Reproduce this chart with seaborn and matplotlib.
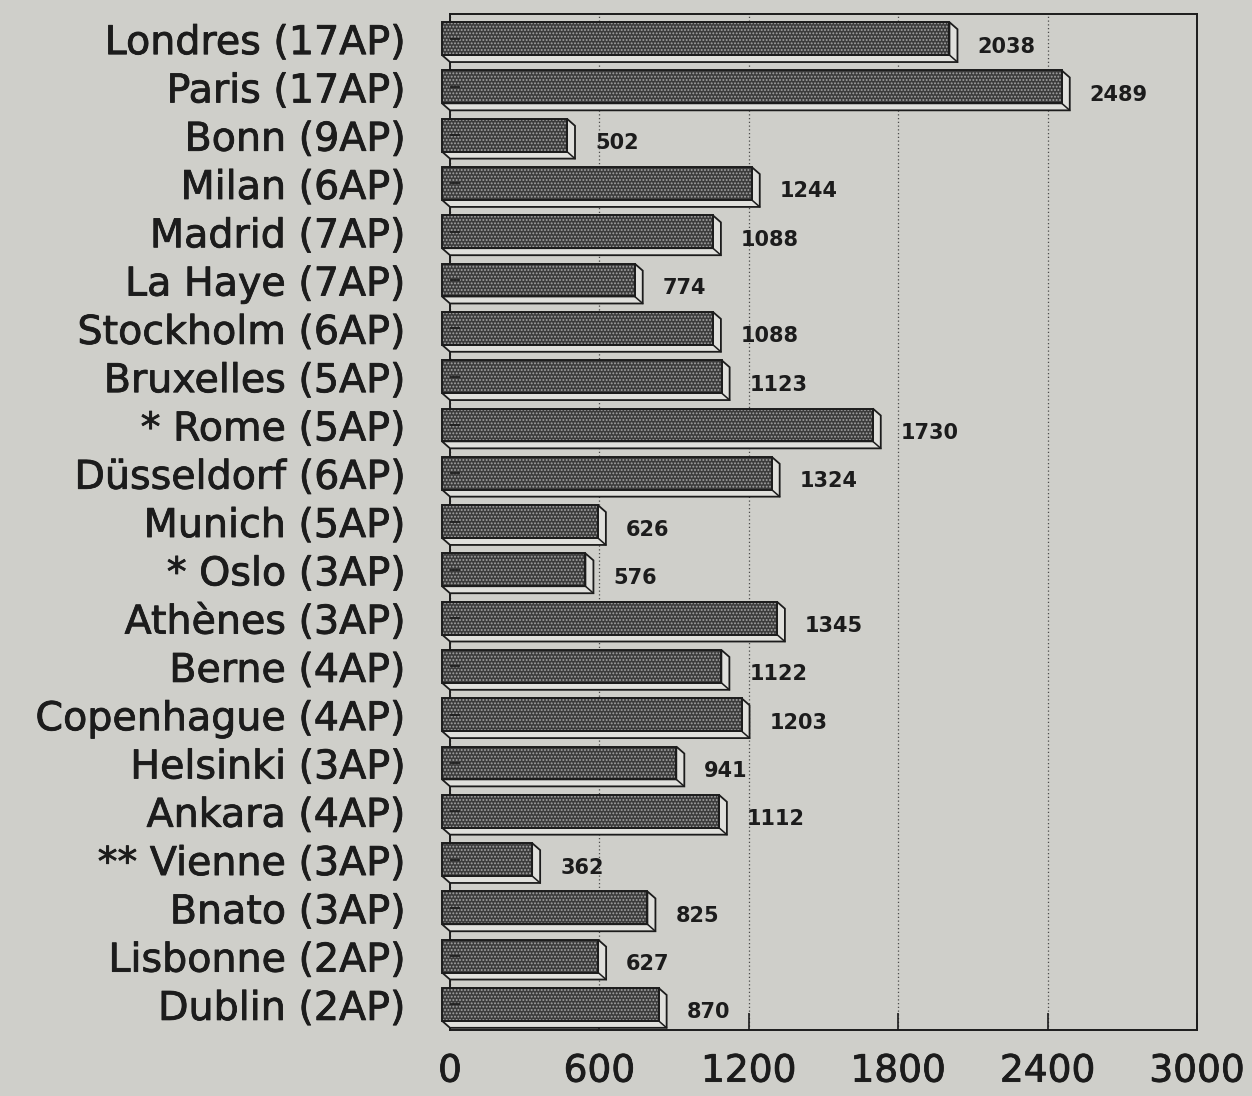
import matplotlib
matplotlib.use("Agg")
import matplotlib.pyplot as plt
import matplotlib.transforms as mtransforms
import matplotlib.patheffects as pe
from matplotlib.patches import Polygon
from matplotlib.lines import Line2D
import pandas as pd
import seaborn as sns

# Data
cities = [
    "Londres (17AP)", "Paris (17AP)", "Bonn (9AP)", "Milan (6AP)",
    "Madrid (7AP)", "La Haye (7AP)", "Stockholm (6AP)", "Bruxelles (5AP)",
    "* Rome (5AP)", "Düsseldorf (6AP)", "Munich (5AP)", "* Oslo (3AP)",
    "Athènes (3AP)", "Berne (4AP)", "Copenhague (4AP)", "Helsinki (3AP)",
    "Ankara (4AP)", "** Vienne (3AP)", "Bnato (3AP)", "Lisbonne (2AP)",
    "Dublin (2AP)",
]
values = [2038, 2489, 502, 1244, 1088, 774, 1088, 1123, 1730, 1324, 626,
          576, 1345, 1122, 1203, 941, 1112, 362, 825, 627, 870]
x_ticks = [0, 600, 1200, 1800, 2400, 3000]

# Colours
PAPER = "#cfcfca"
INK = "#1c1c1c"
FACE = "#3c3c3c"
DOTS = "#a4a4a4"
SIDE = "#e0e0dc"

sns.set_theme(style="ticks")
plt.rcParams["font.family"] = ["DejaVu Sans"]
plt.rcParams["hatch.linewidth"] = 0.9

W, H = 1252, 1096
fig = plt.figure(figsize=(W / 100, H / 100), dpi=100, facecolor=PAPER)
ax = fig.add_axes([450 / W, 1 - 1030 / H, (1197 - 450) / W, (1030 - 14) / H])
ax.set_facecolor(PAPER)

df = pd.DataFrame({"ville": cities, "valeur": values})
bar_h = 0.68

# stippled front faces
sns.barplot(data=df, x="valeur", y="ville", orient="h", color=FACE,
            saturation=1, width=bar_h, ax=ax, errorbar=None)
n = len(cities)
faces = list(ax.patches[:n])
for p in faces:
    p.set_facecolor(FACE)
    p.set_edgecolor(DOTS)
    p.set_hatch(".....")
    p.set_linewidth(0)
    p.set_zorder(2)

# outlines of the front faces
sns.barplot(data=df, x="valeur", y="ville", orient="h", color=INK,
            fill=False, width=bar_h, ax=ax, errorbar=None, linewidth=1.4)
outlines = list(ax.patches[n:2 * n])
for p in outlines:
    p.set_facecolor("none")
    p.set_edgecolor(INK)
    p.set_linewidth(1.4)
    p.set_zorder(2.1)

ax.set_xlim(0, 3000)
ax.set_ylim(20.53, -0.51)

DX, DY = 8, 7  # depth of the extrusion, in pixels
shift = mtransforms.ScaledTranslation(-DX / 100, 0, fig.dpi_scale_trans)
for p in faces + outlines:
    p.set_transform(ax.transData + shift)
    p.set_clip_on(False)

# extruded bottom / right sides
inv = ax.transData.inverted()
for p in faces:
    x0d, x1d = p.get_x(), p.get_x() + p.get_width()
    y0d, y1d = p.get_y(), p.get_y() + p.get_height()
    (X0, Ya), (X1, Yb2) = ax.transData.transform([(x0d, y0d), (x1d, y1d)])
    X0 -= DX
    X1 -= DX
    Yt, Yb = max(Ya, Yb2), min(Ya, Yb2)
    pts = [(X0, Yb), (X1, Yb), (X1, Yt), (X1 + DX, Yt - DY),
           (X1 + DX, Yb - DY), (X0 + DX, Yb - DY)]
    poly = Polygon(inv.transform(pts), closed=True, facecolor=SIDE,
                   edgecolor=INK, linewidth=1.3, joinstyle="miter",
                   zorder=1.5, clip_on=False)
    ax.add_patch(poly)
    edge = inv.transform([(X1, Yb), (X1 + DX, Yb - DY)])
    ax.add_line(Line2D(edge[:, 0], edge[:, 1], color=INK, linewidth=1.1,
                       zorder=1.6, clip_on=False))

thick = [pe.withStroke(linewidth=0.6, foreground=INK)]

# value labels
for i, v in enumerate(values):
    ax.annotate(f"{v}", xy=(v, i), xytext=(20, -8), textcoords="offset pixels",
                ha="left", va="center", fontsize=15, fontweight="bold",
                color=INK, annotation_clip=False)

# axes styling
ax.set_xticks(x_ticks)
ax.set_xticklabels([str(t) for t in x_ticks])
ax.set_xlabel("")
ax.set_ylabel("")
ax.xaxis.grid(True, linestyle=(0, (1, 2)), color="#4a4a4a", linewidth=0.9)
ax.yaxis.grid(False)
ax.set_axisbelow(True)
ax.yaxis.set_zorder(3)
ax.tick_params(axis="x", direction="in", length=12, width=1.2, color=INK,
               labelsize=27, labelcolor=INK, pad=17)
ax.tick_params(axis="y", direction="in", length=7, width=1.2, color=INK,
               labelsize=28.5, labelcolor=INK, pad=32)
for lab in ax.get_xticklabels() + ax.get_yticklabels():
    lab.set_path_effects(thick)
for name, sp in ax.spines.items():
    sp.set_visible(True)
    sp.set_color(INK)
    sp.set_linewidth(1.4)
ax.spines["left"].set_zorder(1.2)

fig.savefig("out.png", dpi=100, facecolor=PAPER)
